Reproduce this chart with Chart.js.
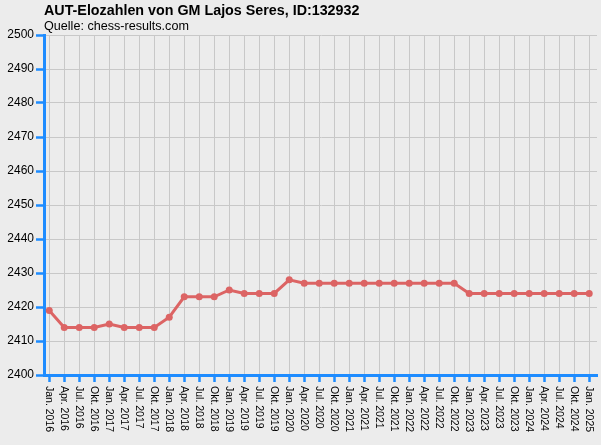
<!DOCTYPE html>
<html>
<head>
<meta charset="utf-8">
<script src="https://cdn.jsdelivr.net/npm/chart.js@4"></script>
<style>
  html, body { margin: 0; padding: 0; background: #ececec; }
  canvas { display: block; }
</style>
</head>
<body>
<canvas id="eloChart" width="601" height="445"></canvas>
<script>
const quarters = [
    "Jan. 2016", "Apr. 2016", "Jul. 2016", "Okt. 2016",
    "Jan. 2017", "Apr. 2017", "Jul. 2017", "Okt. 2017",
    "Jan. 2018", "Apr. 2018", "Jul. 2018", "Okt. 2018",
    "Jan. 2019", "Apr. 2019", "Jul. 2019", "Okt. 2019",
    "Jan. 2020", "Apr. 2020", "Jul. 2020", "Okt. 2020",
    "Jan. 2021", "Apr. 2021", "Jul. 2021", "Okt. 2021",
    "Jan. 2022", "Apr. 2022", "Jul. 2022", "Okt. 2022",
    "Jan. 2023", "Apr. 2023", "Jul. 2023", "Okt. 2023",
    "Jan. 2024", "Apr. 2024", "Jul. 2024", "Okt. 2024",
    "Jan. 2025"
];

const elo = [
    2419, 2414, 2414, 2414,
    2415, 2414, 2414, 2414,
    2417, 2423, 2423, 2423,
    2425, 2424, 2424, 2424,
    2428, 2427, 2427, 2427,
    2427, 2427, 2427, 2427,
    2427, 2427, 2427, 2427,
    2424, 2424, 2424, 2424,
    2424, 2424, 2424, 2424,
    2424
];

const yMin = 2400, yMax = 2500, yStep = 10;

const font = "'Liberation Sans', Arial, sans-serif";
const axisBlue = "#1e8cff";
const gridGrey = "#c8c8c8";
const lineRed = "#dc6464";

// x labels read top-to-bottom, chart.js only rotates the other way
const verticalLabels = {
    id: "verticalLabels",
    afterDraw(chart) {
        const ctx = chart.ctx;
        const xs = chart.scales.x;
        const top = chart.chartArea.bottom + 11;
        ctx.save();
        ctx.fillStyle = "#000";
        ctx.font = "10.5px " + font;
        ctx.textAlign = "left";
        ctx.textBaseline = "middle";
        quarters.forEach((q, i) => {
            ctx.save();
            ctx.translate(xs.getPixelForValue(i), top);
            ctx.rotate(Math.PI / 2);
            ctx.fillText(q, 0, 0);
            ctx.restore();
        });
        ctx.restore();
    }
};

new Chart(document.getElementById("eloChart"), {
    type: "line",
    data: {
        datasets: [{
            label: "Elo",
            data: elo.map((v, i) => ({ x: i, y: v })),
            borderColor: lineRed,
            backgroundColor: lineRed,
            borderWidth: 3,
            pointRadius: 3.5,
            pointBorderWidth: 0,
            pointBackgroundColor: lineRed,
            tension: 0
        }]
    },
    options: {
        responsive: false,
        animation: false,
        devicePixelRatio: 1,
        layout: { padding: { top: 0, right: 4, bottom: 0, left: 0 } },
        plugins: {
            legend: { display: false },
            tooltip: { enabled: false },
            title: {
                display: true,
                text: "AUT-Elozahlen von GM Lajos Seres, ID:132932",
                align: "start",
                fullSize: false,
                color: "#000",
                font: { family: font, size: 14.3, weight: "bold", lineHeight: "17px" },
                padding: { top: 3, bottom: 0 }
            },
            subtitle: {
                display: true,
                text: "Quelle: chess-results.com",
                align: "start",
                fullSize: false,
                color: "#000",
                font: { family: font, size: 12.6, lineHeight: "14px" },
                padding: { top: 0, bottom: 1 }
            }
        },
        scales: {
            x: {
                type: "linear",
                min: -0.35,
                max: 36.52,
                ticks: { display: false, stepSize: 1, includeBounds: false },
                afterBuildTicks(scale) {
                    scale.ticks = quarters.map((q, i) => ({ value: i }));
                },
                afterFit(scale) { scale.height = 70; },
                grid: {
                    color: gridGrey,
                    lineWidth: 1,
                    drawTicks: true,
                    tickLength: 7,
                    tickColor: axisBlue,
                    tickWidth: 2.5
                },
                border: { color: axisBlue, width: 3 }
            },
            y: {
                min: yMin,
                max: yMax,
                ticks: {
                    stepSize: yStep,
                    color: "#000",
                    padding: 2,
                    font: { family: font, size: 12 },
                    callback: v => String(v)
                },
                afterFit(scale) { scale.width = 44; },
                grid: {
                    color: gridGrey,
                    lineWidth: 1,
                    drawTicks: true,
                    tickLength: 8,
                    tickColor: axisBlue,
                    tickWidth: 2.5
                },
                border: { color: axisBlue, width: 3 }
            }
        }
    },
    plugins: [verticalLabels]
});
</script>
</body>
</html>
